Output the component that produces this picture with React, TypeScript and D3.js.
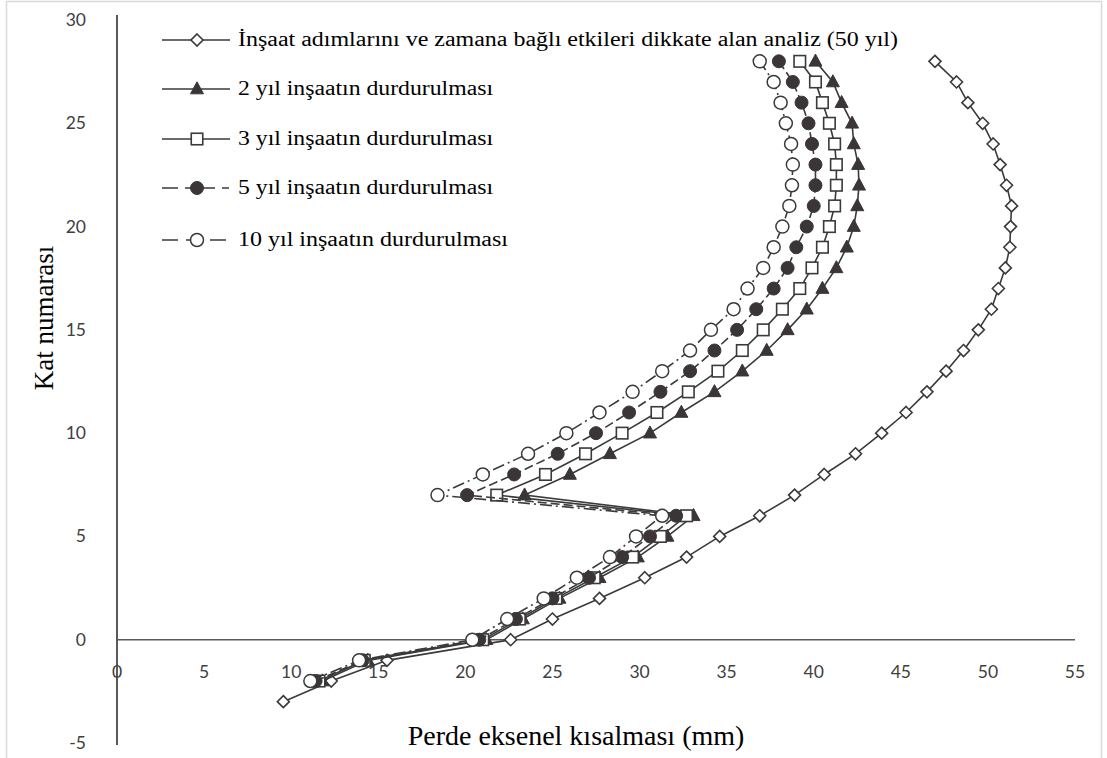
import React from "react";
import * as d3 from "d3";

const floorsD = [-3, -2, -1, 0, 1, 2, 3, 4, 5, 6, 7, 8, 9, 10, 11, 12, 13, 14, 15, 16, 17, 18, 19, 20, 21, 22, 23, 24, 25, 26, 27, 28];
const floors = [-2, -1, 0, 1, 2, 3, 4, 5, 6, 7, 8, 9, 10, 11, 12, 13, 14, 15, 16, 17, 18, 19, 20, 21, 22, 23, 24, 25, 26, 27, 28];

const s50 = [9.55, 12.3, 15.5, 22.6, 25.0, 27.7, 30.3, 32.7, 34.6, 36.9, 38.9, 40.6, 42.4, 43.9, 45.3, 46.5, 47.6, 48.6, 49.45, 50.2, 50.6, 51.0, 51.26, 51.3, 51.36, 51.07, 50.7, 50.3, 49.7, 48.85, 48.2, 46.96];
const s2 = [11.8, 14.4, 21.2, 23.3, 25.4, 27.7, 29.9, 31.6, 33.1, 23.4, 26.0, 28.3, 30.6, 32.4, 34.3, 35.9, 37.3, 38.5, 39.6, 40.5, 41.3, 41.9, 42.3, 42.5, 42.6, 42.55, 42.3, 42.2, 41.6, 41.1, 40.1];
const s3 = [11.6, 14.2, 21.0, 23.1, 25.2, 27.4, 29.6, 31.2, 32.7, 21.8, 24.6, 26.9, 29.0, 31.0, 32.8, 34.5, 35.9, 37.1, 38.2, 39.2, 39.9, 40.5, 40.9, 41.2, 41.3, 41.3, 41.2, 40.9, 40.5, 40.1, 39.2];
const s5 = [11.4, 14.1, 20.8, 22.9, 25.0, 27.1, 29.0, 30.6, 32.1, 20.1, 22.8, 25.3, 27.5, 29.4, 31.2, 32.9, 34.3, 35.6, 36.7, 37.7, 38.5, 39.0, 39.6, 40.0, 40.1, 40.1, 39.9, 39.7, 39.3, 38.8, 38.0];
const s10 = [11.1, 13.9, 20.4, 22.4, 24.5, 26.4, 28.3, 29.8, 31.3, 18.4, 21.0, 23.6, 25.8, 27.7, 29.6, 31.3, 32.9, 34.1, 35.4, 36.2, 37.1, 37.7, 38.2, 38.6, 38.75, 38.8, 38.7, 38.4, 38.1, 37.7, 36.9];

const seriesNames = [
  "İnşaat adımlarını ve zamana bağlı etkileri dikkate alan analiz (50 yıl)",
  "2 yıl inşaatın durdurulması",
  "3 yıl inşaatın durdurulması",
  "5 yıl inşaatın durdurulması",
  "10 yıl inşaatın durdurulması",
];

const xTicks = [0, 5, 10, 15, 20, 25, 30, 35, 40, 45, 50, 55];
const yTicks = [-5, 0, 5, 10, 15, 20, 25, 30];

const INK = "#3a3a3a";
const FILL = "#3b3538";

type Kind = "diamond" | "triangle" | "square" | "filled" | "open";

function Marker({ kind, x, y }: { kind: Kind; x: number; y: number }) {
  if (kind === "diamond") {
    const r = 6;
    return <path d={`M${x},${y - r}L${x + r},${y}L${x},${y + r}L${x - r},${y}Z`} fill="#fff" stroke={INK} strokeWidth={1.6} />;
  }
  if (kind === "triangle") {
    const h = 12, w = 13;
    return <path d={`M${x},${y - h * 0.6}L${x + w / 2},${y + h * 0.4}L${x - w / 2},${y + h * 0.4}Z`} fill={FILL} stroke={FILL} strokeWidth={1} />;
  }
  if (kind === "square") {
    const s = 11.5;
    return <rect x={x - s / 2} y={y - s / 2} width={s} height={s} fill="#fff" stroke={INK} strokeWidth={1.6} />;
  }
  if (kind === "filled") {
    return <circle cx={x} cy={y} r={6.5} fill={FILL} stroke={FILL} strokeWidth={1} />;
  }
  return <circle cx={x} cy={y} r={6.5} fill="#fff" stroke={INK} strokeWidth={1.5} />;
}

export default function App() {
  const W = 1107, H = 758;
  const x = d3.scaleLinear().domain([0, 55]).range([117, 1075]);
  const y = d3.scaleLinear().domain([-5, 30]).range([743, 20]);

  const series: { vals: number[]; fl: number[]; kind: Kind; dash?: string }[] = [
    { vals: s50, fl: floorsD, kind: "diamond" },
    { vals: s2, fl: floors, kind: "triangle" },
    { vals: s3, fl: floors, kind: "square" },
    { vals: s5, fl: floors, kind: "filled", dash: "9,4" },
    { vals: s10, fl: floors, kind: "open", dash: "12,4,2,4" },
  ];

  const line = d3
    .line<[number, number]>()
    .x((d) => x(d[0]))
    .y((d) => y(d[1]));

  const legendY = [40, 89, 139, 188, 240];
  const legendDash = [undefined, undefined, undefined, "16,7,7,7", "16,8"];
  const legendLen = [660, 255, 255, 255, 270];
  const serif = "'Liberation Serif', 'Times New Roman', serif";

  return (
    <svg width={W} height={H} style={{ position: "absolute", left: 0, top: 0, background: "#fff" }}>
      <rect x={0} y={0} width={W} height={H} fill="#fff" />
      <rect x={6.5} y={1.5} width={1095} height={H + 5} fill="none" stroke="#d9d9d9" strokeWidth={1.5} />

      {/* y axis */}
      <line x1={x(0)} x2={x(0)} y1={y(30) - 5} y2={y(-5) + 2} stroke="#000" strokeWidth={1.3} />
      {/* x axis at 0 */}
      <line x1={x(0)} x2={x(55)} y1={y(0)} y2={y(0)} stroke="#595959" strokeWidth={1.6} />

      {yTicks.map((t) => (
        <text key={"y" + t} x={86} y={y(t) + 6} textAnchor="end" fontFamily="Lato, 'Open Sans', sans-serif" fontSize={17.5} fill="#404040">
          {t}
        </text>
      ))}
      {xTicks.map((t) => (
        <text key={"x" + t} x={x(t)} y={678} textAnchor="middle" fontFamily="Lato, 'Open Sans', sans-serif" fontSize={17.5} fill="#404040">
          {t}
        </text>
      ))}

      <text x={576} y={745} textAnchor="middle" fontFamily={serif} fontSize={28} fill="#000">
        Perde eksenel kısalması (mm)
      </text>
      <text transform={`translate(53,318) rotate(-90)`} textAnchor="middle" fontFamily={serif} fontSize={27} fill="#000">
        Kat numarası
      </text>

      {series.map((s, i) => (
        <g key={"s" + i}>
          <path
            d={line(s.vals.map((v, j) => [v, s.fl[j]] as [number, number])) || ""}
            fill="none"
            stroke={INK}
            strokeWidth={1.6}
            strokeDasharray={s.dash}
          />
          {s.vals.map((v, j) => (
            <Marker key={j} kind={s.kind} x={x(v)} y={y(s.fl[j])} />
          ))}
        </g>
      ))}

      {seriesNames.map((n, i) => (
        <g key={"l" + i}>
          <line x1={162} x2={230} y1={legendY[i]} y2={legendY[i]} stroke={INK} strokeWidth={1.6} strokeDasharray={legendDash[i]} />
          <Marker kind={series[i].kind} x={197} y={legendY[i]} />
          <text x={238} y={legendY[i] + 6} textLength={legendLen[i]} lengthAdjust="spacingAndGlyphs" fontFamily={serif} fontSize={20} fill="#000">
            {n}
          </text>
        </g>
      ))}
    </svg>
  );
}
